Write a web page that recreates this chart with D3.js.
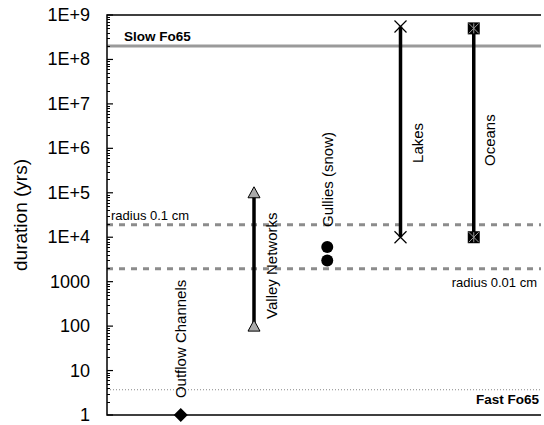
<!DOCTYPE html>
<html><head><meta charset="utf-8">
<script src="https://cdn.jsdelivr.net/npm/d3@7"></script>
<style>body{margin:0;background:#fff}svg{display:block}text{font-family:"Liberation Sans",Arial,Helvetica,sans-serif}</style>
</head><body>
<svg id="c" width="544" height="425"></svg>
<script>
// ---- data ----
const categories = ["Outflow Channels", "Valley Networks", "Gullies (snow)", "Lakes", "Oceans"];
const catIndex = [1, 2, 3, 4, 5];
const rangeLow  = [1, 100, 3000, 1e4, 1e4];
const rangeHigh = [1, 1e5, 6000, 5.5e8, 5e8];
const markerType = ["diamond", "triangle", "circle", "x", "boxx"];
const labelStart = [2.4, 145, 1.7e4, 4.7e5, 4e5];   // duration where rotated label begins
const refNames  = ["Slow Fo65", "radius 0.1 cm", "radius 0.01 cm", "Fast Fo65"];
const refValues = [2e8, 1.9e4, 1950, 3.7];
const tickValues = [1, 10, 100, 1000, 1e4, 1e5, 1e6, 1e7, 1e8, 1e9];
const tickLabels = ["1", "10", "100", "1000", "1E+4", "1E+5", "1E+6", "1E+7", "1E+8", "1E+9"];
const yTitle = "duration (yrs)";

// ---- layout ----
const svg = d3.select("#c");
const L = 107, R = 541, T = 15, B = 415;
const x = d3.scaleLinear().domain([0, 6]).range([107.5, 547]);
const y = d3.scaleLog().domain([1, 1e9]).range([B, T]);

// reference lines
const refStyle = [
  {stroke: "#9a9a9a", width: 3, dash: null},
  {stroke: "#8c8c8c", width: 3, dash: "6,6"},
  {stroke: "#8c8c8c", width: 3, dash: "6,6"},
  {stroke: "#888", width: 1, dash: "1,2"}
];
refValues.forEach((v, i) => {
  svg.append("line").attr("x1", L).attr("x2", R).attr("y1", y(v)).attr("y2", y(v))
    .attr("stroke", refStyle[i].stroke).attr("stroke-width", refStyle[i].width)
    .attr("stroke-dasharray", refStyle[i].dash);
});
// reference labels
const refLab = [
  {x: 124, dy: -5, anchor: "start", bold: true, size: 13.5},
  {x: 111, dy: -5, anchor: "start", bold: false, size: 13},
  {x: 537, dy: 18, anchor: "end", bold: false, size: 13},
  {x: 539, dy: 14, anchor: "end", bold: true, size: 13.5}
];
refNames.forEach((n, i) => {
  svg.append("text").attr("x", refLab[i].x).attr("y", y(refValues[i]) + refLab[i].dy)
    .attr("text-anchor", refLab[i].anchor).attr("font-size", refLab[i].size)
    .attr("font-weight", refLab[i].bold ? "bold" : "normal").text(n);
});

// axis
const minor = [];
for (let e = 0; e < 9; e++) for (let m = 2; m <= 9; m++) minor.push(m * Math.pow(10, e));
svg.append("g").selectAll("line").data(minor).join("line")
  .attr("x1", L).attr("x2", L + 3).attr("y1", d => Math.round(y(d)) + 0.5).attr("y2", d => Math.round(y(d)) + 0.5)
  .attr("stroke", "#000").attr("stroke-width", 1);
svg.append("g").selectAll("line").data(tickValues).join("line")
  .attr("x1", L).attr("x2", L + 6).attr("y1", d => y(d)).attr("y2", d => y(d))
  .attr("stroke", "#000").attr("stroke-width", 1.2);
svg.append("g").selectAll("text").data(tickValues).join("text")
  .attr("x", 90).attr("y", d => y(d) + 6).attr("text-anchor", "end")
  .attr("font-size", 18).text((d, i) => tickLabels[i]);
svg.append("text").attr("transform", `translate(27,${(T + B) / 2}) rotate(-90)`)
  .attr("text-anchor", "middle").attr("font-size", 19).text(yTitle);

// frame
svg.append("path").attr("d", `M${R},${T}H${L}V${B}H${R}`).attr("fill", "none")
  .attr("stroke", "#000").attr("stroke-width", 1.5);

// range lines
catIndex.forEach((c, i) => {
  if (rangeLow[i] !== rangeHigh[i] && markerType[i] !== "circle") {
    svg.append("line").attr("x1", x(c)).attr("x2", x(c))
      .attr("y1", y(rangeLow[i])).attr("y2", y(rangeHigh[i]))
      .attr("stroke", "#000").attr("stroke-width", 3.5);
  }
});
// markers
function marker(type, cx, cy) {
  const g = svg.append("g").attr("transform", `translate(${cx},${cy})`);
  if (type === "diamond") g.append("path").attr("d", "M0,-7L7,0L0,7L-7,0Z").attr("fill", "#000");
  if (type === "triangle") g.append("path").attr("d", "M0,-6L6,5L-6,5Z").attr("fill", "#aaa").attr("stroke", "#000").attr("stroke-width", 1);
  if (type === "circle") g.append("circle").attr("r", 6).attr("fill", "#000");
  if (type === "x") g.append("path").attr("d", "M-6,-6L6,6M6,-6L-6,6").attr("stroke", "#000").attr("stroke-width", 1.2);
  if (type === "boxx") {
    g.append("rect").attr("x", -6).attr("y", -6).attr("width", 12).attr("height", 12).attr("fill", "#000");
    g.append("path").attr("d", "M-5,-5L5,5M5,-5L-5,5M0,-5V5").attr("stroke", "#999").attr("stroke-width", 1);
  }
}
catIndex.forEach((c, i) => {
  marker(markerType[i], x(c), y(rangeLow[i]));
  if (rangeHigh[i] !== rangeLow[i]) marker(markerType[i], x(c), y(rangeHigh[i]));
});
// category labels (rotated)
const labDx = [5, 23, 6, 22, 21];
categories.forEach((n, i) => {
  svg.append("text").attr("transform", `translate(${x(catIndex[i]) + labDx[i]},${y(labelStart[i])}) rotate(-90)`)
    .attr("font-size", 15).text(n);
});
</script>
</body></html>
